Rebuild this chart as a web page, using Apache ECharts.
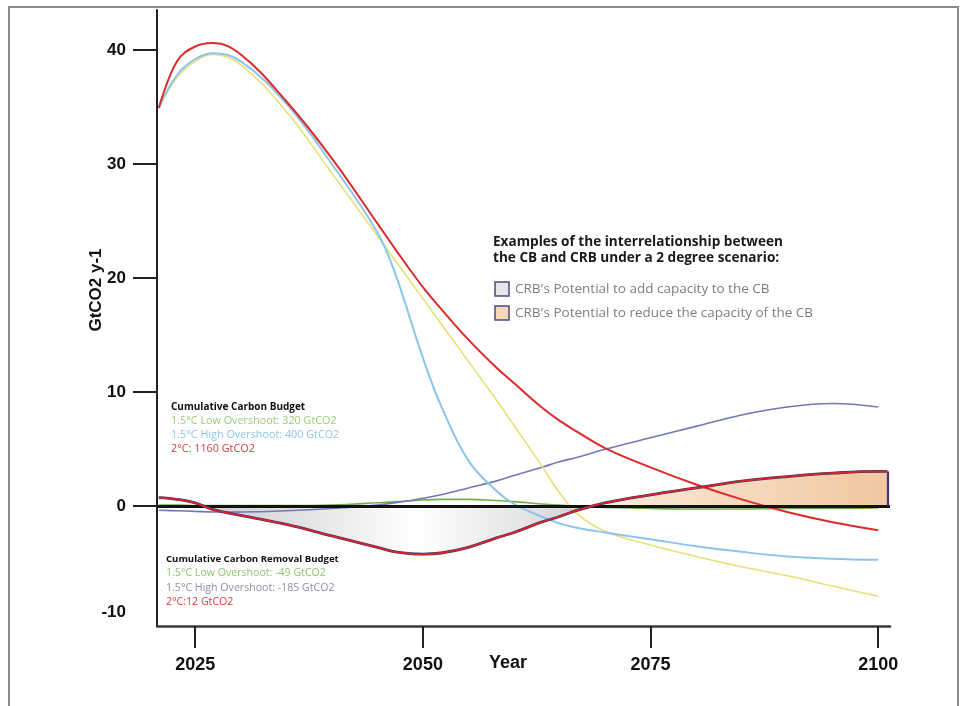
<!DOCTYPE html>
<html><head><meta charset="utf-8">
<script src="https://cdn.jsdelivr.net/npm/echarts@6/dist/echarts.min.js"></script>
<style>html,body{margin:0;padding:0;background:#fff}#c{width:964px;height:706px}</style>
</head><body><div id="c"></div>
<script>
// ---- data ----
const years = [2021,2023,2025,2027,2030,2035,2040,2045,2047,2050,2052,2055,2058,2060,2063,2065,2067,2070,2075,2080,2085,2090,2095,2100];
const red2C      = [34.9,39.0,40.3,40.6,39.6,35.5,30.5,24.8,22.5,19.2,17.3,14.6,12.2,10.8,8.7,7.5,6.5,5.1,3.4,1.9,0.6,-0.5,-1.4,-2.1];
const yellowLow  = [34.9,37.6,39.0,39.6,38.7,34.6,29.2,23.7,21.5,18.2,16.0,12.7,9.4,7.1,3.6,1.2,-0.7,-2.2,-3.4,-4.4,-5.3,-6.1,-7.0,-7.9];
const blueHigh   = [34.9,37.8,39.2,39.7,39.0,35.3,30.0,24.0,20.3,13.0,8.8,4.0,1.4,0.2,-0.9,-1.5,-1.9,-2.3,-2.9,-3.5,-4.0,-4.4,-4.6,-4.7];
const purpleCRB  = [-0.35,-0.4,-0.45,-0.5,-0.5,-0.4,-0.2,0.1,0.3,0.7,1.0,1.6,2.2,2.7,3.4,3.9,4.3,5.0,6.0,7.0,8.0,8.7,9.0,8.7];
const greenCRB   = [0.1,0.1,0.05,0.05,0.05,0.05,0.1,0.3,0.4,0.55,0.6,0.6,0.5,0.4,0.2,0.1,0.0,-0.1,-0.2,-0.25,-0.25,-0.2,-0.2,-0.15];
const crbYears   = [2021,2023,2025,2027,2030,2035,2040,2045,2047,2050,2052,2055,2058,2060,2063,2065,2067,2070,2075,2080,2085,2090,2095,2100,2101];
const crb2C      = [0.75,0.6,0.3,-0.3,-0.8,-1.6,-2.6,-3.6,-4.0,-4.2,-4.1,-3.6,-2.8,-2.3,-1.4,-0.9,-0.35,0.3,1.0,1.6,2.2,2.6,2.9,3.05,3.05];
const xTicks = [2025,2050,2075,2100];
const yLabels = [-10,0,10,20,30,40];
const yTicks = [0,10,20,30,40];
const cbTitle = 'Cumulative Carbon Budget';
const cbLines = ['1.5°C Low Overshoot: 320 GtCO2','1.5°C High Overshoot: 400 GtCO2','2°C: 1160 GtCO2'];
const crbTitle = 'Cumulative Carbon Removal Budget';
const crbLines = ['1.5°C Low Overshoot: -49 GtCO2','1.5°C High Overshoot: -185 GtCO2','2°C:12 GtCO2'];
const legTitle = ['Examples of the interrelationship between','the CB and CRB under a 2 degree scenario:'];
const legItems = ["CRB's Potential to add capacity to the CB","CRB's Potential to reduce the capacity of the CB"];

const pairs = (xs, ys) => xs.map((x,i)=>[x, ys[i]]);

// zero crossings of CRB (linear interpolation of the data) for the fill gradient
const crossings = [];
for (let i=1;i<crbYears.length;i++){
  const a=crb2C[i-1], b=crb2C[i];
  if ((a>0&&b<=0)||(a<0&&b>=0)) crossings.push(crbYears[i-1] + (crbYears[i]-crbYears[i-1]) * (a/(a-b)));
}
const x0 = crbYears[0], x1 = crbYears[crbYears.length-1];
const off = y => Math.min(1, Math.max(0, (y - x0)/(x1-x0)));
const c1 = off(crossings[0]), c2 = off(crossings[1]);
const mid = c1 + (c2-c1)*0.55;
const fillGrad = new echarts.graphic.LinearGradient(0,0,1,0,[
  {offset:0, color:'rgba(255,255,255,0)'},
  {offset:c1, color:'rgba(255,255,255,0)'},
  {offset:c1+0.001, color:'#cfcfd3'},
  {offset:c1+(c2-c1)*0.25, color:'#e3e3e6'},
  {offset:mid, color:'#ffffff'},
  {offset:c1+(c2-c1)*0.85, color:'#e2e2e5'},
  {offset:c2-0.001, color:'#cbcbcf'},
  {offset:c2, color:'#fbebdc'},
  {offset:1, color:'#f1c79f'}
]);

const chart = echarts.init(document.getElementById('c'), null, {renderer:'canvas'});
const yTickFont = {fontFamily:'Liberation Sans', fontWeight:'bold', fontSize:17, color:'#111'};
const xTickFont = {fontFamily:'Liberation Sans', fontWeight:'bold', fontSize:18, color:'#111'};
const annFont = 'Open Sans';

const graphics = [
  {type:'rect', shape:{x:9,y:7,width:949,height:720}, style:{fill:'none', stroke:'#8a8a8a', lineWidth:2}, silent:true},
  {type:'text', x:508, y:663, style:{text:'Year', fontFamily:'Liberation Sans', fontWeight:'bold', fontSize:18, fill:'#111', align:'center', verticalAlign:'middle'}},
  {type:'text', x:96, y:290, rotation:Math.PI/2, style:{text:'GtCO2 y-1', fontFamily:'Liberation Sans', fontWeight:'bold', fontSize:17, fill:'#111', align:'center', verticalAlign:'middle'}},
  {type:'text', x:171, y:407, style:{text:cbTitle, fontFamily:annFont, fontWeight:'bold', fontSize:10, fill:'#111', verticalAlign:'middle'}},
  {type:'text', x:171, y:421, style:{text:cbLines[0], fontFamily:annFont, fontSize:10.8, fill:'#9ccb7c', verticalAlign:'middle'}},
  {type:'text', x:171, y:435, style:{text:cbLines[1], fontFamily:annFont, fontSize:10.8, fill:'#8fc4e6', verticalAlign:'middle'}},
  {type:'text', x:171, y:449, style:{text:cbLines[2], fontFamily:annFont, fontSize:10.8, fill:'#e0393b', verticalAlign:'middle'}},
  {type:'text', x:166, y:559, style:{text:crbTitle, fontFamily:annFont, fontWeight:'bold', fontSize:9.6, fill:'#111', verticalAlign:'middle'}},
  {type:'text', x:166, y:573, style:{text:crbLines[0], fontFamily:annFont, fontSize:10.6, fill:'#8fc46e', verticalAlign:'middle'}},
  {type:'text', x:166, y:588, style:{text:crbLines[1], fontFamily:annFont, fontSize:10.6, fill:'#8d8da8', verticalAlign:'middle'}},
  {type:'text', x:166, y:602, style:{text:crbLines[2], fontFamily:annFont, fontSize:10.6, fill:'#e0393b', verticalAlign:'middle'}},
  {type:'text', x:493, y:242, style:{text:legTitle[0], fontFamily:annFont, fontWeight:'bold', fontSize:13.6, fill:'#1a1a1a', verticalAlign:'middle'}},
  {type:'text', x:493, y:258, style:{text:legTitle[1], fontFamily:annFont, fontWeight:'bold', fontSize:13.6, fill:'#1a1a1a', verticalAlign:'middle'}},
  {type:'rect', shape:{x:495,y:282,width:14,height:14}, style:{fill:'#e6e6ec', stroke:'#4b4a7c', lineWidth:1.5}},
  {type:'rect', shape:{x:495,y:306,width:14,height:14}, style:{fill:'#f6d8b8', stroke:'#4b4a7c', lineWidth:1.5}},
  {type:'text', x:515, y:289, style:{text:legItems[0], fontFamily:annFont, fontSize:13.5, fill:'#7d7d88', verticalAlign:'middle'}},
  {type:'text', x:515, y:313, style:{text:legItems[1], fontFamily:annFont, fontSize:13.5, fill:'#7d7d88', verticalAlign:'middle'}}
];

chart.setOption({
  animation:false,
  backgroundColor:'#fff',
  grid:{left:157, right:74, top:10, bottom:80, containLabel:false},
  xAxis:{type:'value', min:2020.8, max:2101.3,
    axisLine:{show:true, onZero:false, lineStyle:{color:'#3a3a3a', width:2.5}},
    axisTick:{show:true, customValues:xTicks, length:22, lineStyle:{color:'#222', width:2}},
    axisLabel:{customValues:xTicks, margin:30, formatter: v => String(v), ...xTickFont},
    splitLine:{show:false}},
  yAxis:{type:'value', min:-10.5, max:43.5,
    axisLine:{show:true, onZero:false, lineStyle:{color:'#222', width:2}},
    axisTick:{show:true, customValues:yTicks, length:24, lineStyle:{color:'#222', width:2}},
    axisLabel:{customValues:yLabels, margin:31, ...yTickFont,
      formatter: v => v === -10 ? '{up|-10}' : String(v),
      rich:{up:{fontFamily:'Liberation Sans', fontWeight:'bold', fontSize:17, color:'#111', padding:[0,0,16,0]}}},
    splitLine:{show:false}},
  graphic:graphics,
  series:[
    {type:'line', name:'crbFill', data:pairs(crbYears, crb2C), smooth:0.4, symbol:'none', z:1,
      lineStyle:{width:0}, areaStyle:{color:fillGrad, opacity:1, origin:0}},
    {type:'line', name:'green', data:pairs(years, greenCRB), smooth:0.4, symbol:'none', z:2,
      lineStyle:{color:'#6fae4c', width:1.6},
      markLine:{silent:true, symbol:'none', label:{show:false}, data:[{yAxis:0}], lineStyle:{color:'#121212', width:3, type:'solid'}}},
    {type:'line', name:'purple', data:pairs(years, purpleCRB), smooth:0.4, symbol:'none', z:3,
      lineStyle:{color:'#7476b6', width:1.6}},
    {type:'line', name:'yellow', data:pairs(years, yellowLow), smooth:0.4, symbol:'none', z:3,
      lineStyle:{color:'#e9df78', width:1.6}},
    {type:'line', name:'blue', data:pairs(years, blueHigh), smooth:0.4, symbol:'none', z:3,
      lineStyle:{color:'#8dc4ea', width:2}},
    {type:'line', name:'red', data:pairs(years, red2C), smooth:0.4, symbol:'none', z:4,
      lineStyle:{color:'#dd2a2a', width:2}},
    {type:'line', name:'crbOutline', data:pairs(crbYears, crb2C), smooth:0.4, symbol:'none', z:5,
      lineStyle:{color:'#3c2f63', width:2.8},
      markLine:{silent:true, symbol:'none', label:{show:false},
        data:[[{coord:[crbYears[crbYears.length-1],0]},{coord:[crbYears[crbYears.length-1],crb2C[crb2C.length-1]]}]],
        lineStyle:{color:'#3c3a6a', width:2.2, type:'solid'}}},
    {type:'line', name:'crbRed', data:pairs(crbYears, crb2C), smooth:0.4, symbol:'none', z:6,
      lineStyle:{color:'#d8272b', width:1.8}}
  ]
});
</script></body></html>
